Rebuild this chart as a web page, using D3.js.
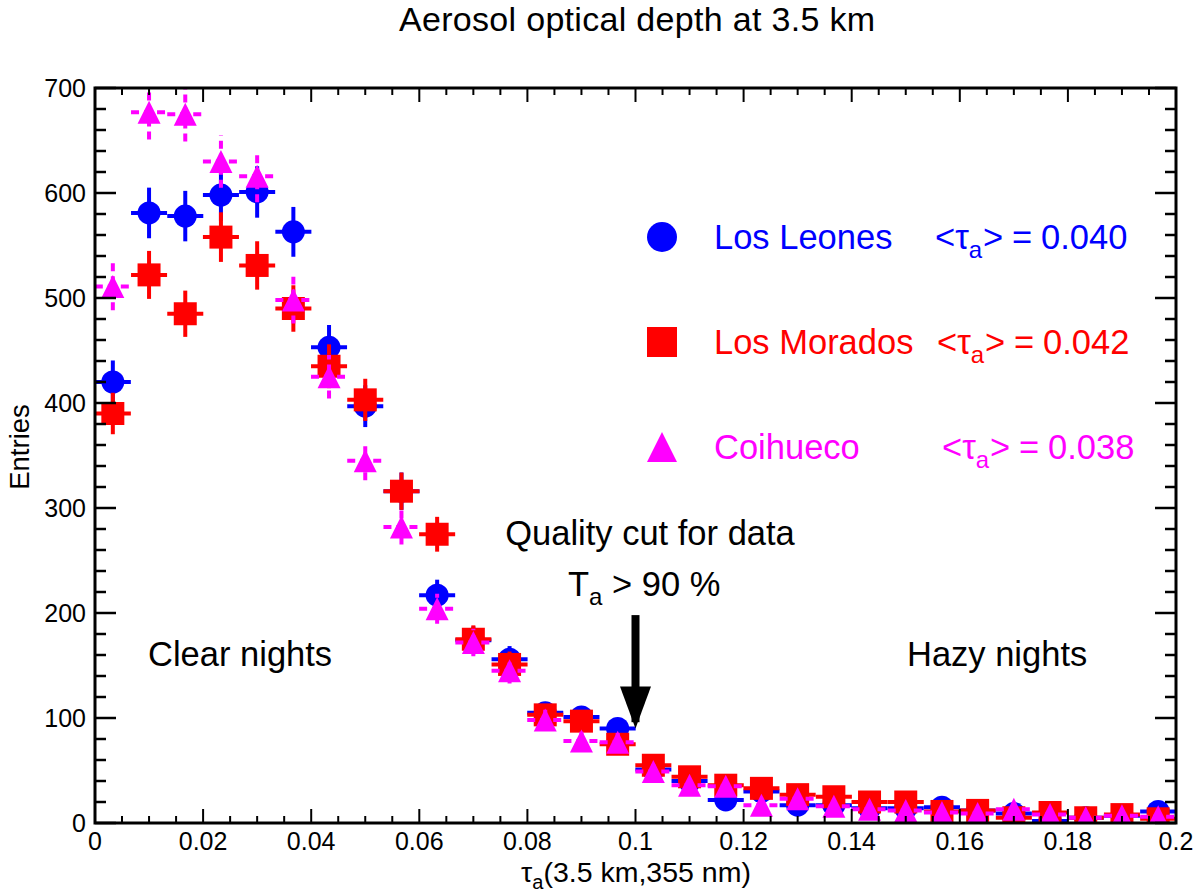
<!DOCTYPE html>
<html>
<head>
<meta charset="utf-8">
<script src="https://cdn.jsdelivr.net/npm/d3@7"></script>
<style>
  body { margin: 0; background: #fff; }
  svg { display: block; font-family: "Liberation Sans", Arial, sans-serif; }
</style>
</head>
<body>
<div id="main"></div>
<script>
'use strict';

// tau_a bin centres (30 bins between 0 and 0.2)
var binCenters = [0.0033, 0.0100, 0.0167, 0.0233, 0.0300, 0.0367, 0.0433, 0.0500, 0.0567, 0.0633,
                  0.0700, 0.0767, 0.0833, 0.0900, 0.0967, 0.1033, 0.1100, 0.1167, 0.1233, 0.1300,
                  0.1367, 0.1433, 0.1500, 0.1567, 0.1633, 0.1700, 0.1767, 0.1833, 0.1900, 0.1967];
var binWidth = 0.2 / 30;

var losLeones = [420, 581, 578, 598, 601, 563, 453, 397, 316, 217, 174, 156, 105, 101, 90,
                 51, 40, 22, 30, 17, 17, 14, 14, 15, 12, 9, 2, 5, 7, 11];
var losMorados = [390, 522, 485, 558, 531, 490, 435, 403, 316, 275, 175, 151, 103, 97, 75,
                  55, 44, 36, 33, 27, 25, 20, 20, 11, 12, 5, 10, 5, 8, 4];
var coihueco = [511, 677, 675, 630, 616, 498, 425, 345, 282, 204, 172, 145, 98, 78, 77,
                49, 36, 35, 17, 23, 16, 13, 12, 10, 9, 13, 8, 5, 7, 6];

var seriesNames = ["Los Leones", "Los Morados", "Coihueco"];
var seriesMeans = ["0.040", "0.042", "0.038"];
var seriesColors = ["#0000ff", "#ff0000", "#ff00ff"];
var seriesShapes = ["circle", "square", "triangle"];

var xTicks = [0, 0.02, 0.04, 0.06, 0.08, 0.1, 0.12, 0.14, 0.16, 0.18, 0.2];
var yTicks = [0, 100, 200, 300, 400, 500, 600, 700];

var W = 1203, H = 893;
var padL = 95, padR = 1176, padT = 88, padB = 823;
var bigFont = 34.5;

var svg = d3.select("#main").append("svg").attr("width", W).attr("height", H);

var x = d3.scaleLinear().domain([0, 0.2]).range([padL, padR]);
var y = d3.scaleLinear().domain([0, 700]).range([padB, padT]);

svg.append("clipPath").attr("id", "frame")
  .append("rect").attr("x", padL).attr("y", padT).attr("width", padR - padL).attr("height", padB - padT);

function markerPath(shape, s) {
  var h = s / 2;
  if (shape === "circle") {
    return d3.symbol().type(d3.symbolCircle).size(Math.PI * h * h)();
  } else if (shape === "square") {
    return `M${-h},${-h}H${h}V${h}H${-h}Z`;
  }
  return `M0,${-h}L${h},${h}L${-h},${h}Z`;
}

var plot = svg.append("g").attr("clip-path", "url(#frame)");

var allSeries = [losLeones, losMorados, coihueco];
allSeries.forEach(function(values, k) {
  var g = plot.append("g");
  var color = seriesColors[k];
  var dash = k === 2 ? "8,5" : null;
  var pts = values.map(function(v, i) { return {c: binCenters[i], v: v, e: Math.sqrt(v)}; });

  g.selectAll("line.ex").data(pts).enter().append("line")
    .attr("x1", d => x(d.c - binWidth / 2)).attr("x2", d => x(d.c + binWidth / 2))
    .attr("y1", d => y(d.v)).attr("y2", d => y(d.v))
    .attr("stroke", color).attr("stroke-width", 4).attr("stroke-dasharray", dash);
  g.selectAll("line.ey").data(pts).enter().append("line")
    .attr("x1", d => x(d.c)).attr("x2", d => x(d.c))
    .attr("y1", d => y(d.v - d.e)).attr("y2", d => y(d.v + d.e))
    .attr("stroke", color).attr("stroke-width", 4).attr("stroke-dasharray", dash);
  g.selectAll("path").data(pts).enter().append("path")
    .attr("d", markerPath(seriesShapes[k], 23))
    .attr("transform", d => `translate(${x(d.c)},${y(d.v)})`)
    .attr("fill", color);
});

// frame and ticks
var axes = svg.append("g").attr("stroke", "#000");
axes.append("rect").attr("x", padL).attr("y", padT).attr("width", padR - padL).attr("height", padB - padT)
  .attr("fill", "none").attr("stroke-width", 3);

var xMinor = d3.range(0, 0.2001, 0.005);
xMinor.forEach(function(t, i) {
  var len = (i % 4 === 0) ? 14 : 7;
  axes.append("line").attr("x1", x(t)).attr("x2", x(t)).attr("y1", padB).attr("y2", padB - len).attr("stroke-width", 2);
  axes.append("line").attr("x1", x(t)).attr("x2", x(t)).attr("y1", padT).attr("y2", padT + len).attr("stroke-width", 2);
});
var yMinor = d3.range(0, 701, 20);
yMinor.forEach(function(t, i) {
  var len = (i % 5 === 0) ? 21 : 11;
  axes.append("line").attr("x1", padL).attr("x2", padL + len).attr("y1", y(t)).attr("y2", y(t)).attr("stroke-width", 2.5);
  axes.append("line").attr("x1", padR).attr("x2", padR - len).attr("y1", y(t)).attr("y2", y(t)).attr("stroke-width", 2.5);
});

svg.append("g").selectAll("text").data(xTicks).enter().append("text")
  .attr("x", d => x(d)).attr("y", 850).attr("text-anchor", "middle")
  .attr("font-size", 25).text(d => d3.format("")(d));
svg.append("g").selectAll("text").data(yTicks).enter().append("text")
  .attr("x", 86).attr("y", d => y(d)).attr("dy", "0.35em").attr("text-anchor", "end")
  .attr("font-size", 25).text(d => d);

// titles
svg.append("text").attr("x", 637).attr("y", 31).attr("text-anchor", "middle")
  .attr("font-size", bigFont - 0.5).attr("textLength", 476).text("Aerosol optical depth at 3.5 km");

var xt = svg.append("text").attr("x", 636).attr("y", 882).attr("text-anchor", "middle").attr("font-size", 28.5);
xt.append("tspan").text("τ");
xt.append("tspan").attr("font-size", 20).attr("dy", 7).text("a");
xt.append("tspan").attr("dy", -7).text("(3.5 km,355 nm)");

svg.append("text").attr("transform", "translate(29,447) rotate(-90)").attr("text-anchor", "middle")
  .attr("font-size", 27.5).text("Entries");

// legend
var meanX = [935, 937, 942];
seriesNames.forEach(function(name, k) {
  var cy = 237 + k * 105;
  var color = seriesColors[k];
  svg.append("path").attr("d", markerPath(seriesShapes[k], 30))
    .attr("transform", `translate(662,${cy})`).attr("fill", color);
  svg.append("text").attr("x", 714).attr("y", cy + 12).attr("font-size", bigFont)
    .attr("fill", color).text(name);
  var g = svg.append("g").attr("fill", color).attr("font-size", bigFont);
  var x0 = meanX[k];
  var t = g.append("text").attr("x", x0).attr("y", cy + 12);
  t.append("tspan").text("<τ");
  t.append("tspan").attr("font-size", 24).attr("dy", 9).text("a");
  g.append("text").attr("x", x0 + 48).attr("y", cy + 12).text(">");
  g.append("text").attr("x", x0 + 77).attr("y", cy + 12).text("=");
  g.append("text").attr("x", x0 + 106).attr("y", cy + 12).text(seriesMeans[k]);
});

// annotations
svg.append("text").attr("x", 148).attr("y", 666).attr("font-size", bigFont).text("Clear nights");
svg.append("text").attr("x", 907).attr("y", 666).attr("font-size", bigFont).text("Hazy nights");
svg.append("text").attr("x", 650).attr("y", 545).attr("text-anchor", "middle").attr("font-size", bigFont).text("Quality cut for data");
var tq = svg.append("text").attr("x", 568).attr("y", 596).attr("font-size", bigFont);
tq.append("tspan").text("T");
tq.append("tspan").attr("font-size", 24).attr("dy", 9).text("a");
tq.append("tspan").attr("dy", -9).text(" > 90 %");

var ax = x(0.1);
svg.append("rect").attr("x", ax - 4).attr("y", y(198)).attr("width", 8).attr("height", y(96) - y(198)).attr("fill", "#000");
svg.append("path").attr("d", `M${ax - 15.5},${y(130)}L${ax + 15.5},${y(130)}L${ax},${y(90)}Z`).attr("fill", "#000");
</script>
</body>
</html>
